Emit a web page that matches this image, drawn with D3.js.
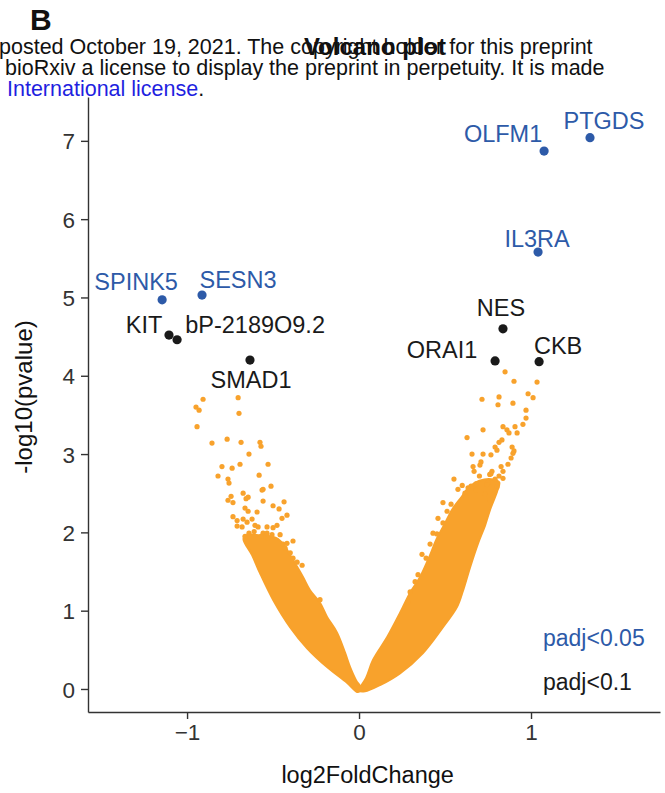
<!DOCTYPE html>
<html>
<head>
<meta charset="utf-8">
<script src="https://cdn.jsdelivr.net/npm/d3@7"></script>
<style>
  html, body { margin: 0; padding: 0; background: #fff; }
  svg { display: block; font-family: "Liberation Sans", Arial, sans-serif; }
</style>
</head>
<body>
<div id="chart"></div>
<script>
// labelled genes
const genes = ["PTGDS", "OLFM1", "IL3RA", "SPINK5", "SESN3", "KIT", "bP-2189O9.2", "SMAD1", "NES", "ORAI1", "CKB"];
const geneLfc = [1.343, 1.076, 1.041, -1.145, -0.913, -1.105, -1.058, -0.634, 0.837, 0.791, 1.047];
const geneLogP = [7.04, 6.87, 5.58, 4.97, 5.03, 4.52, 4.46, 4.20, 4.60, 4.19, 4.18];
const geneGroup = ["padj<0.05", "padj<0.05", "padj<0.05", "padj<0.05", "padj<0.05",
  "padj<0.1", "padj<0.1", "padj<0.1", "padj<0.1", "padj<0.1", "padj<0.1"];
const groups = ["padj<0.05", "padj<0.1"];

// non significant genes, sparse part of the cloud [log2FC, -log10 p]
const leftArmPoints = [[-0.907,3.70],[-0.948,3.60],[-0.930,3.56],[-0.703,3.72],[-0.698,3.52],[-0.942,3.35],
  [-0.855,3.14],[-0.767,3.19],[-0.686,3.15],[-0.576,3.15],[-0.570,3.10],[-0.640,3.00],[-0.797,2.84],
  [-0.738,2.82],[-0.692,2.87],[-0.529,2.87],[-0.820,2.72],[-0.762,2.68],[-0.756,2.63],[-0.581,2.73],
  [-0.512,2.59],[-0.558,2.55],[-0.564,2.54],[-0.674,2.50],[-0.744,2.46],[-0.645,2.45],[-0.657,2.43],
  [-0.762,2.41],[-0.733,2.38],[-0.558,2.40],[-0.436,2.39],[-0.500,2.34],[-0.465,2.30],[-0.663,2.31],
  [-0.645,2.27],[-0.593,2.26],[-0.419,2.22],[-0.733,2.20],[-0.709,2.15],[-0.674,2.17],[-0.651,2.13],
  [-0.622,2.17],[-0.448,2.18],[-0.709,2.08],[-0.680,2.07],[-0.605,2.09],[-0.587,2.07],[-0.535,2.07],
  [-0.500,2.06],[-0.477,2.09],[-0.663,1.95],[-0.558,1.99],[-0.529,1.93],[-0.506,1.97],[-0.459,1.97],
  [-0.384,1.89],[-0.442,1.85],[-0.419,1.86],[-0.384,1.67],[-0.331,1.58],[-0.227,1.14],
  [-0.640,1.99],[-0.610,2.01],[-0.570,1.95],[-0.535,1.99],[-0.430,1.80],[-0.400,1.74],[-0.360,1.62]];
const rightArmPoints = [[0.849,4.05],[0.901,3.93],[1.035,3.92],[0.983,3.77],[1.012,3.72],[0.715,3.70],
  [0.814,3.73],[0.808,3.63],[0.895,3.65],[0.971,3.56],[0.971,3.46],[0.953,3.38],[0.721,3.31],[0.837,3.35],
  [0.860,3.31],[0.872,3.27],[0.907,3.35],[0.919,3.27],[0.628,3.21],[0.831,3.18],[0.814,3.15],[0.791,3.09],
  [0.802,3.05],[0.890,3.09],[0.901,3.04],[0.895,3.01],[0.657,3.00],[0.721,3.00],[0.767,2.99],[0.884,2.95],
  [0.709,2.90],[0.703,2.86],[0.866,2.87],[0.663,2.84],[0.669,2.78],[0.773,2.78],[0.767,2.75],[0.826,2.84],
  [0.837,2.78],[0.814,2.72],[0.837,2.69],[0.552,2.68],[0.791,2.68],[0.750,2.64],[0.744,2.61],[0.680,2.62],
  [0.651,2.59],[0.634,2.57],[0.802,2.58],[0.791,2.53],[0.680,2.54],[0.733,2.49],[0.616,2.50],[0.622,2.45],
  [0.488,2.38],[0.535,2.36],[0.762,2.41],[0.512,2.27],[0.459,2.18],[0.488,2.12],[0.430,1.99],[0.453,1.98],
  [0.366,1.72],[0.390,1.67],[0.413,1.85],[0.343,1.46],[0.326,1.37],[0.297,1.24],[0.285,1.11],
  [0.575,2.55],[0.600,2.60],[0.700,2.72],[0.760,2.74]];

// outline of the dense part of the cloud (too many overlapping dots to list)
const leftArmCore = [[-0.672,1.92],[-0.622,1.71],[-0.576,1.48],[-0.500,1.14],[-0.401,0.79],[-0.302,0.52],
  [-0.186,0.28],[-0.070,0.08],[-0.006,-0.04],[0.012,0.01],[-0.017,0.11],[-0.052,0.28],[-0.081,0.46],
  [-0.128,0.72],[-0.186,0.92],[-0.227,1.10],[-0.285,1.26],[-0.326,1.43],[-0.360,1.56],[-0.401,1.71],
  [-0.436,1.84],[-0.483,1.93],[-0.576,1.96],[-0.645,1.97]];
const rightArmCore = [[0.000,-0.02],[0.041,0.14],[0.081,0.37],[0.163,0.66],[0.238,0.97],[0.297,1.23],
  [0.355,1.43],[0.413,1.71],[0.448,1.90],[0.494,2.09],[0.541,2.29],[0.599,2.46],[0.640,2.58],[0.700,2.66],
  [0.770,2.68],[0.815,2.64],[0.802,2.52],[0.762,2.29],[0.733,2.09],[0.692,1.86],[0.645,1.55],[0.605,1.26],
  [0.570,1.05],[0.488,0.79],[0.372,0.46],[0.238,0.20],[0.122,0.05],[0.035,-0.03]];

const xTicks = [-1, 0, 1];
const yTicks = [0, 1, 2, 3, 4, 5, 6, 7];

// label placement relative to the point, pixels
const labelNudge = {
  "PTGDS": [14, -9], "OLFM1": [-41, -9], "IL3RA": [-1, -5], "SPINK5": [-26, -10], "SESN3": [36, -7],
  "KIT": [-25, -2], "bP-2189O9.2": [78, -7], "SMAD1": [1, 28], "NES": [-2, -13], "ORAI1": [-53, -3], "CKB": [19, -8]
};

const W = 665, H = 793;
const orange = "#F8A22C";
const color = d3.scaleOrdinal().domain(groups).range(["#2D5AA8", "#1a1a1a"]);

const svg = d3.select("#chart").append("svg").attr("width", W).attr("height", H);

const x = d3.scaleLinear().domain([-1.576, 1.75]).range([88, 660]);
const y = d3.scaleLinear().domain([-0.294, 7.56]).range([712, 97]);

// cloud
const line = d3.line().x(d => x(d[0])).y(d => y(d[1])).curve(d3.curveCatmullRomClosed.alpha(0.5));
svg.selectAll(".core").data([leftArmCore, rightArmCore]).enter().append("path")
  .attr("d", line).attr("fill", orange).attr("stroke", orange).attr("stroke-width", 2).attr("stroke-linejoin", "round");
svg.selectAll(".bg").data(leftArmPoints.concat(rightArmPoints)).enter().append("circle")
  .attr("cx", d => x(d[0])).attr("cy", d => y(d[1])).attr("r", 2.6).attr("fill", orange);

// labelled points
const gd = genes.map((g, i) => ({ name: g, lfc: geneLfc[i], p: geneLogP[i], group: geneGroup[i] }));
svg.selectAll(".gene").data(gd).enter().append("circle")
  .attr("cx", d => x(d.lfc)).attr("cy", d => y(d.p)).attr("r", 4.6).attr("fill", d => color(d.group));
svg.selectAll(".glabel").data(gd).enter().append("text")
  .attr("x", d => x(d.lfc) + labelNudge[d.name][0])
  .attr("y", d => y(d.p) + labelNudge[d.name][1])
  .attr("text-anchor", "middle").style("font-size", "23.5px")
  .attr("fill", d => color(d.group)).text(d => d.name);

// axes
const xAxis = svg.append("g").attr("transform", "translate(0,712)")
  .call(d3.axisBottom(x).tickValues(xTicks).tickFormat(d3.format("d")).tickSize(7).tickPadding(5).tickSizeOuter(0));
const yAxis = svg.append("g").attr("transform", "translate(88,0)")
  .call(d3.axisLeft(y).tickValues(yTicks).tickFormat(d3.format("d")).tickSize(7).tickPadding(6).tickSizeOuter(0));
[xAxis, yAxis].forEach(a => {
  a.select(".domain").attr("stroke", "#333").attr("stroke-width", 1.4);
  a.selectAll(".tick line").attr("stroke", "#333").attr("stroke-width", 1.4);
  a.selectAll(".tick text").attr("fill", "#333").style("font-size", "22.5px").style("font-family", "Liberation Sans, Arial, sans-serif");
});
yAxis.selectAll(".tick text").attr("dy", "0.36em");

svg.append("text").attr("x", x(0.05)).attr("y", 783).attr("text-anchor", "middle")
  .style("font-size", "23.5px").attr("fill", "#111").text("log2FoldChange");
svg.append("text").attr("transform", "translate(32,397) rotate(-90)").attr("text-anchor", "middle")
  .style("font-size", "24px").attr("fill", "#111").text("-log10(pvalue)");

// legend
svg.selectAll(".leg").data(groups).enter().append("text")
  .attr("x", 543).attr("y", (d, i) => 646 + i * 44)
  .style("font-size", "23px").attr("fill", d => color(d)).text(d => d);

// header: preprint watermark, panel letter, title
const wm = svg.append("g").style("font-size", "21.5px").attr("fill", "#111");
wm.append("text").attr("x", -1).attr("y", 54).text("posted October 19, 2021. The copyright holder for this preprint");
wm.append("text").attr("x", 5).attr("y", 75).text("bioRxiv a license to display the preprint in perpetuity. It is made");
const l3 = wm.append("text").attr("x", 7).attr("y", 96);
l3.append("tspan").attr("fill", "#1f1fe0").text("International license");
l3.append("tspan").text(".");

svg.append("text").attr("x", 30).attr("y", 30).style("font-size", "30px").style("font-weight", "bold")
  .attr("fill", "#111").text("B");
svg.append("text").attr("x", 375).attr("y", 55).attr("text-anchor", "middle")
  .style("font-size", "24px").style("font-weight", "bold").attr("fill", "#111").text("Volcano plot");
</script>
</body>
</html>
